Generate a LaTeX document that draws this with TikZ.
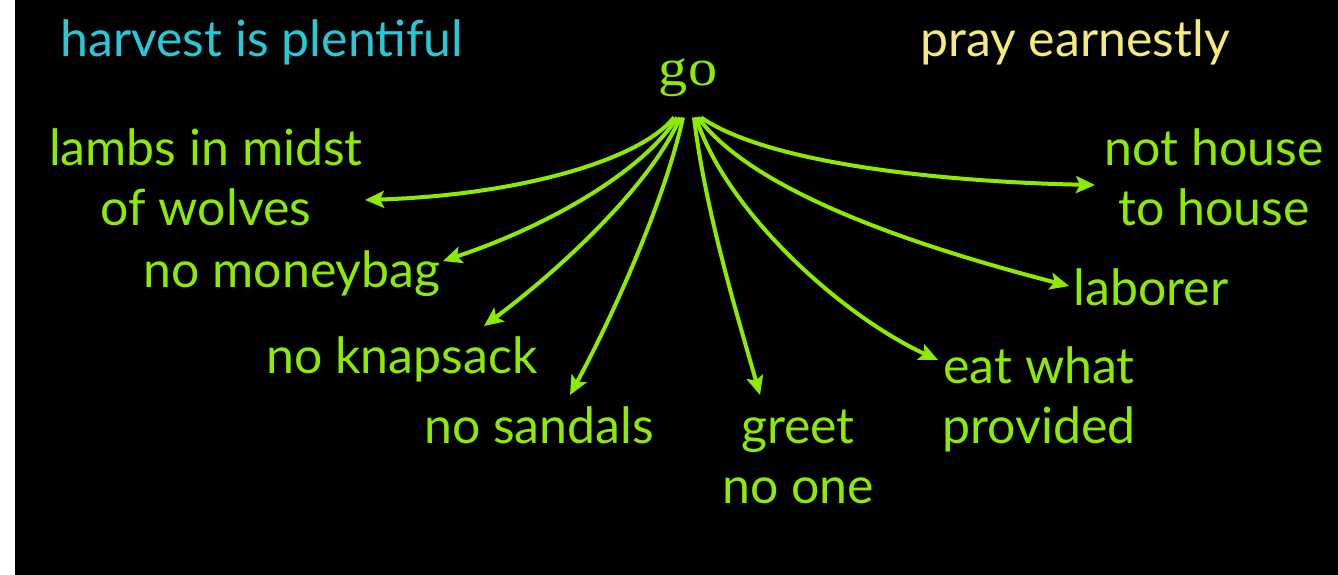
\documentclass[tikz,border=0pt]{standalone}
\usepackage{fontspec}
\setmainfont{Lato}
\newfontfamily\gofont[FakeStretch=1.12]{Liberation Serif}
\usetikzlibrary{arrows.meta}
\definecolor{lime}{RGB}{140,235,0}
\definecolor{sky}{RGB}{40,200,215}
\definecolor{sand}{RGB}{245,235,125}
\begin{document}
\begin{tikzpicture}[x=1pt,y=-1pt,
  lbl/.style={font=\fontsize{50}{60}\selectfont, text=lime, align=center, inner sep=0pt, anchor=base},
  arr/.style={draw=lime, line width=4pt, -{Stealth[length=19pt,width=17pt,inset=4pt]}}]
\fill[white] (0,0) rectangle (1338,575);
\fill[black] (15,0) rectangle (1338,575);
\useasboundingbox (0,0) rectangle (1338,575);

\node[lbl, text=sky] (harvest) at (262,57) {harvest is plentiful};
\node[lbl, text=sand] (pray) at (1075,57) {pray earnestly};
\node[lbl, font=\gofont\fontsize{52}{52}\selectfont] (go) at (688,86) {go};

% multi-line labels: anchor=base is the baseline of the last line
\node[lbl] (lambs) at (206,225) {lambs in midst\\of wolves};
\node[lbl] (money) at (292,287) {no moneybag};
\node[lbl] (knap) at (402,373) {no knapsack};
\node[lbl] (sand) at (539,443) {no sandals};
\node[lbl] (greet) at (798,503) {greet\\no one};
\node[lbl] (eat) at (1039,443) {eat what\\provided};
\node[lbl] (labor) at (1151,305) {laborer};
\node[lbl] (house) at (1214,225) {not house\\to house};

\coordinate (tLambs) at (365,200);
\coordinate (tMoney) at (443,261);
\coordinate (tKnap) at (484,326);
\coordinate (tSand) at (570,395);
\coordinate (tGreet) at (760,395);
\coordinate (tEat) at (938,360);
\coordinate (tLabor) at (1069,286);
\coordinate (tHouse) at (1095,185);

\draw[arr] ([xshift=-14pt,yshift=-20pt]go.south) .. controls (640,160) and (520,195) .. (tLambs);
\draw[arr] ([xshift=-11pt,yshift=-20pt]go.south) .. controls (648,165) and (560,222) .. (tMoney);
\draw[arr] ([xshift=-8pt,yshift=-20pt]go.south) .. controls (655,178) and (570,262) .. (tKnap);
\draw[arr] ([xshift=-5pt,yshift=-20pt]go.south) .. controls (665,200) and (612,318) .. (tSand);
\draw[arr] ([xshift=6pt,yshift=-20pt]go.south) .. controls (705,210) and (738,318) .. (tGreet);
\draw[arr] ([xshift=8pt,yshift=-20pt]go.south) .. controls (725,210) and (840,315) .. (tEat);
\draw[arr] ([xshift=10pt,yshift=-20pt]go.south) .. controls (755,195) and (930,250) .. (tLabor);
\draw[arr] ([xshift=13pt,yshift=-20pt]go.south) .. controls (770,165) and (950,182) .. (tHouse);
\end{tikzpicture}
\end{document}
